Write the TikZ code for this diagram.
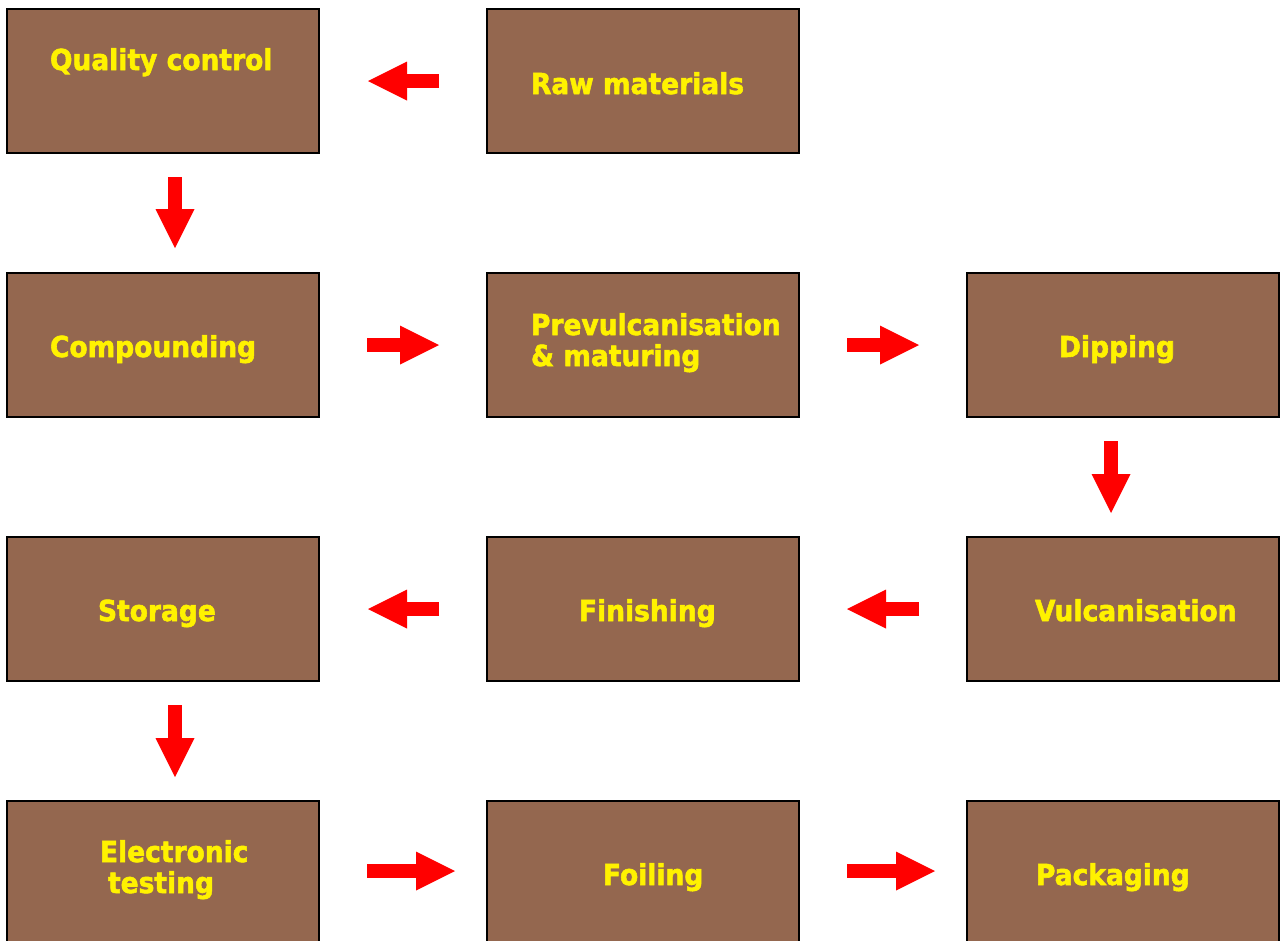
\documentclass[tikz,border=0pt]{standalone}
\usepackage{graphicx}
\usepackage{fontspec}
\setmainfont{DejaVu Sans}
\newfontfamily\lblfont{DejaVu Sans Bold}[FakeBold=2]
\newcommand\tallt[1]{\scalebox{1}[1.09]{#1}}
\usetikzlibrary{arrows.meta}
\definecolor{boxbrown}{RGB}{148,103,79}
\begin{document}
\begin{tikzpicture}[x=1pt,y=-1pt,
  box/.style={draw=black,line width=1.6pt,fill=boxbrown,minimum width=312pt,minimum height=144pt,inner sep=0pt,outer sep=0pt},
  lbl/.style={anchor=base west,inner sep=0pt,outer sep=0pt,text=yellow,font=\fontsize{26.5}{31}\lblfont},
  blk/.style={draw=red,line width=14pt,-{Triangle[length=39pt,width=39pt,line width=0pt]}}]
\useasboundingbox (0,0) rectangle (1280,940);
% boxes
\node[box] (qc)   at (163,81)  {};
\node[box] (raw)  at (643,81)  {};
\node[box] (comp) at (163,345) {};
\node[box] (prev) at (643,345) {};
\node[box] (dip)  at (1123,345) {};
\node[box] (sto)  at (163,609) {};
\node[box] (fin)  at (643,609) {};
\node[box] (vul)  at (1123,609) {};
\node[box] (et)   at (163,873) {};
\node[box] (foil) at (643,873) {};
\node[box] (pack) at (1123,873) {};
% labels
\node[lbl] (qct)   at (50,70)   {\tallt{Quality control}};
\node[lbl] (rawt)  at (531,94)  {\tallt{Raw materials}};
\node[lbl] (compt) at (50,357)  {\tallt{Compounding}};
\node[lbl] (prevt) at (531,335) {\tallt{Prevulcanisation}};
\node[lbl] (prevt2) at (531,366) {\tallt{\& maturing}};
\node[lbl] (dipt)  at (1059,357) {\tallt{Dipping}};
\node[lbl] (stot)  at (98,621)  {\tallt{Storage}};
\node[lbl] (fint)  at (579,621) {\tallt{Finishing}};
\node[lbl] (vult)  at (1035,621) {\tallt{Vulcanisation}};
\node[lbl] (ett)   at (100,862) {\tallt{Electronic}};
\node[lbl] (ett2)  at (108,893) {\tallt{testing}};
\node[lbl] (foilt) at (603,885) {\tallt{Foiling}};
\node[lbl] (packt) at (1036,885) {\tallt{Packaging}};
% arrows
\draw[blk,shorten <=48pt,shorten >=49pt] (raw.west) -- (qc.east);
\draw[blk,shorten <=24pt,shorten >=25pt] ([xshift=12pt]qc.south) -- ([xshift=12pt]comp.north);
\draw[blk,shorten <=48pt,shorten >=48pt] (comp.east) -- (prev.west);
\draw[blk,shorten <=48pt,shorten >=48pt] (prev.east) -- (dip.west);
\draw[blk,shorten <=24pt,shorten >=24pt] ([xshift=-12pt]dip.south) -- ([xshift=-12pt]vul.north);
\draw[blk,shorten <=48pt,shorten >=48pt] (vul.west) -- (fin.east);
\draw[blk,shorten <=48pt,shorten >=49pt] (fin.west) -- (sto.east);
\draw[blk,shorten <=24pt,shorten >=24pt] ([xshift=12pt]sto.south) -- ([xshift=12pt]et.north);
\draw[blk,shorten <=48pt,shorten >=32pt] ([yshift=2pt]et.east) -- ([yshift=2pt]foil.west);
\draw[blk,shorten <=48pt,shorten >=32pt] ([yshift=2pt]foil.east) -- ([yshift=2pt]pack.west);
\end{tikzpicture}
\end{document}
